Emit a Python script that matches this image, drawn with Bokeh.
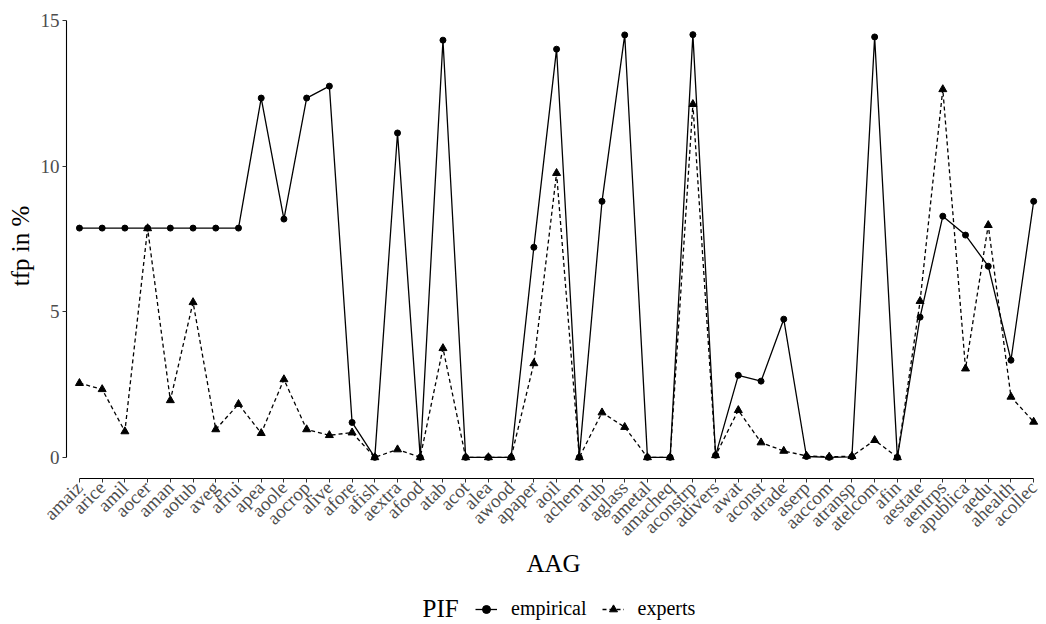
from math import pi
from bokeh.plotting import figure
from bokeh.layouts import column
from bokeh.models import (Range1d, FixedTicker, Legend, LegendItem, Label,
                          ColumnDataSource)
from bokeh.embed import file_html
from bokeh.resources import INLINE

categories = ["amaiz", "arice", "amil", "aocer", "aman", "aotub", "aveg", "afrui",
              "apea", "aoole", "aocrop", "alive", "afore", "afish", "aextra", "afood",
              "atab", "acot", "alea", "awood", "apaper", "aoil", "achem", "arub",
              "aglass", "ametal", "amacheq", "aconstrp", "adivers", "awat", "aconst",
              "atrade", "aserp", "aaccom", "atransp", "atelcom", "afin", "aestate",
              "aentrps", "apublica", "aedu", "ahealth", "acollec"]

empirical = [7.88, 7.88, 7.88, 7.88, 7.88, 7.88, 7.88, 7.88,
             12.35, 8.19, 12.35, 12.76, 1.2, 0.0, 11.15, 0.0,
             14.34, 0.0, 0.0, 0.0, 7.22, 14.03, 0.0, 8.8,
             14.52, 0.0, 0.0, 14.53, 0.07, 2.82, 2.62,
             4.75, 0.03, 0.0, 0.02, 14.45, 0.0, 4.82,
             8.29, 7.64, 6.57, 3.34, 8.8]

experts = [2.55, 2.34, 0.89, 7.87, 1.96, 5.33, 0.96, 1.83,
           0.83, 2.68, 0.96, 0.76, 0.85, 0.0, 0.27, 0.0,
           3.75, 0.0, 0.0, 0.0, 3.23, 9.77, 0.0, 1.54,
           1.04, 0.0, 0.0, 12.14, 0.07, 1.62, 0.51,
           0.22, 0.05, 0.02, 0.04, 0.59, 0.0, 5.37,
           12.65, 3.05, 7.98, 2.08, 1.22]

y_ticks = [0, 5, 10, 15]
series_names = ["empirical", "experts"]
legend_title = "PIF"

SERIF = "Liberation Serif"
idx = list(range(len(categories)))
src = ColumnDataSource(dict(x=idx, emp=empirical, exp=experts))

ymax = max(max(empirical), max(experts))
pad = 0.05 * ymax

W = 1044
H_MAIN = 588
H_LEG = 34

p = figure(width=W, height=H_MAIN, output_backend="svg", toolbar_location=None,
           x_range=Range1d(-0.57, len(categories) - 1 + 0.3),
           y_range=Range1d(-pad, ymax + pad),
           min_border_left=66, min_border_right=4, min_border_top=13,
           min_border_bottom=110)
p.outline_line_color = None
p.grid.visible = False
p.background_fill_color = "white"
p.border_fill_color = "white"

solid = dict(line_color="black", line_width=1.3)
dashed = dict(line_color="black", line_width=1.3, line_dash="4 3")
circ = dict(marker="circle", size=6, fill_color="black", line_color="black")
tri = dict(marker="triangle", size=8, fill_color="black", line_color="black")

p.line("x", "emp", source=src, **solid)
p.scatter("x", "emp", source=src, **circ)
p.line("x", "exp", source=src, **dashed)
p.scatter("x", "exp", source=src, **tri)

# x axis
xa = p.xaxis[0]
xa.ticker = FixedTicker(ticks=idx)
xa.major_label_overrides = {i: c for i, c in zip(idx, categories)}
xa.major_label_orientation = pi / 4
xa.bounds = (0, len(categories) - 1)
xa.minor_tick_line_color = None
xa.major_tick_in = 0
xa.major_tick_out = 4
xa.major_tick_line_color = "#333333"
xa.axis_line_color = "black"
xa.axis_line_width = 1.1
xa.major_label_text_font = SERIF
xa.major_label_text_font_size = "19px"
xa.major_label_text_color = "#4d4d4d"
xa.major_label_standoff = 2
xa.axis_label = "AAG"
xa.axis_label_text_font = SERIF
xa.axis_label_text_font_size = "25px"
xa.axis_label_text_font_style = "normal"
xa.axis_label_text_color = "black"
xa.axis_label_standoff = 0

# y axis
ya = p.yaxis[0]
ya.ticker = FixedTicker(ticks=y_ticks)
ya.bounds = (0, 15)
ya.minor_tick_line_color = None
ya.major_tick_in = 0
ya.major_tick_out = 4
ya.major_tick_line_color = "#333333"
ya.axis_line_color = "black"
ya.axis_line_width = 1.1
ya.major_label_text_font = SERIF
ya.major_label_text_font_size = "19px"
ya.major_label_text_color = "#4d4d4d"
ya.major_label_standoff = 3
ya.axis_label = "tfp in %"
ya.axis_label_text_font = SERIF
ya.axis_label_text_font_size = "25px"
ya.axis_label_text_font_style = "normal"
ya.axis_label_text_color = "black"
ya.axis_label_standoff = 4

# legend strip (separate small figure; key glyphs use a source of NaNs)
q = figure(width=W, height=H_LEG, output_backend="svg", toolbar_location=None,
           x_range=Range1d(0, 1), y_range=Range1d(0, 1),
           x_axis_location=None, y_axis_location=None,
           min_border_left=0, min_border_right=0, min_border_top=0,
           min_border_bottom=0)
q.outline_line_color = None
q.grid.visible = False
q.background_fill_color = "white"
q.border_fill_color = "white"
nan = float("nan")
keysrc = ColumnDataSource(dict(x=[nan], y=[nan]))
k1 = q.line("x", "y", source=keysrc, **solid)
k2 = q.scatter("x", "y", source=keysrc, **circ)
k3 = q.line("x", "y", source=keysrc, **dashed)
k4 = q.scatter("x", "y", source=keysrc, **tri)

legend = Legend(items=[LegendItem(label=series_names[0], renderers=[k1, k2]),
                       LegendItem(label=series_names[1], renderers=[k3, k4])],
                orientation="horizontal", location=(409, 2),
                border_line_color=None, background_fill_alpha=0,
                padding=0, margin=0, spacing=15, glyph_width=22,
                glyph_height=20, label_height=20, label_standoff=14,
                label_text_font=SERIF, label_text_font_size="20px",
                label_text_color="black")
q.add_layout(legend)
q.add_layout(Label(x=356, y=14, x_units="screen", y_units="screen",
                   text=legend_title, text_font=SERIF, text_font_size="25px",
                   text_baseline="middle", text_color="black"))

layout = column(p, q, spacing=0)
open("out.html", "w").write(file_html(layout, INLINE))
